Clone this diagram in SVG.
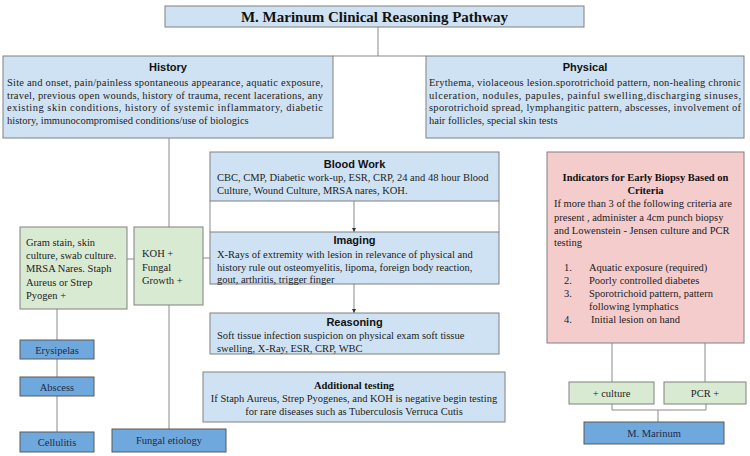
<svg xmlns="http://www.w3.org/2000/svg" width="750" height="456" viewBox="0 0 750 456">
<defs>
<style>
.bl{fill:#cfe2f3;stroke:#808080;stroke-width:1}
.gr{fill:#d9ead3;stroke:#808080;stroke-width:1}
.pk{fill:#f4cccc;stroke:#808080;stroke-width:1}
.db{fill:#6fa8dc;stroke:#5a5a5a;stroke-width:1}
.st{font-family:"Liberation Sans",Arial,sans-serif;font-weight:bold;font-size:11px;fill:#111;text-anchor:middle}
.tx{font-family:"Liberation Serif","Times New Roman",serif;font-size:10.5px;fill:#222}
.tb{font-family:"Liberation Serif","Times New Roman",serif;font-size:10.5px;font-weight:bold;fill:#111;text-anchor:middle}
.dk{font-family:"Liberation Serif","Times New Roman",serif;font-size:10.5px;fill:#1c2b4a;text-anchor:middle}
.c{text-anchor:middle}
.ln{fill:none;stroke:#8a8a8a;stroke-width:1}
</style>
<marker id="ah" viewBox="0 0 6 6" refX="6" refY="3" markerWidth="4" markerHeight="4" orient="auto">
<path d="M0,0 L6,3 L0,6 z" fill="#333"/>
</marker>
</defs>
<rect width="750" height="456" fill="#fff"/>

<g id="connectors">
<path class="ln" d="M378,27 V56 M333,56 H426"/>
<path class="ln" d="M169,138 V227 M169,305 V429"/>
<path class="ln" d="M127,259 H134 M203,258 H210"/>
<path class="ln" d="M57,309 V340 M57,359 V377 M57,396 V432"/>
<path class="ln" d="M210,201 V232 M499,201 V232"/>
<path class="ln" d="M354,201 V232" marker-end="url(#ah)"/>
<path class="ln" d="M354,284 V313" marker-end="url(#ah)"/>
<path class="ln" d="M612,343 V382 M705,343 V382"/>
<path class="ln" d="M612,404 V410 H706 V404 M658,410 V422"/>
</g>

<g id="title">
<rect class="bl" x="165" y="6" width="419" height="21"/>
<text x="374.5" y="21.5" font-family="Liberation Serif,'Times New Roman',serif" font-size="15" font-weight="bold" fill="#111" text-anchor="middle">M. Marinum Clinical Reasoning Pathway</text>
</g>

<g id="history">
<rect class="bl" x="3" y="56" width="330" height="82"/>
<text class="st" x="168" y="71">History</text>
<text class="tx" x="7" y="86" textLength="316" lengthAdjust="spacing">Site and onset, pain/painless spontaneous appearance, aquatic exposure,</text>
<text class="tx" x="7" y="98.5" textLength="316" lengthAdjust="spacing">travel, previous open wounds, history of trauma, recent lacerations, any</text>
<text class="tx" x="7" y="111" textLength="316" lengthAdjust="spacing">existing skin conditions, history of systemic inflammatory, diabetic</text>
<text class="tx" x="7" y="123.5">history, immunocompromised conditions/use of biologics</text>
</g>

<g id="physical">
<rect class="bl" x="426" y="56" width="318" height="82"/>
<text class="st" x="585" y="71">Physical</text>
<text class="tx" x="429" y="86" textLength="312" lengthAdjust="spacing">Erythema, violaceous lesion.sporotrichoid pattern, non-healing chronic</text>
<text class="tx" x="429" y="98.5" textLength="312" lengthAdjust="spacing">ulceration, nodules, papules, painful swelling,discharging sinuses,</text>
<text class="tx" x="429" y="111" textLength="312" lengthAdjust="spacing">sporotrichoid spread, lymphangitic pattern, abscesses, involvement of</text>
<text class="tx" x="429" y="123.5">hair follicles, special skin tests</text>
</g>

<g id="bloodwork">
<rect class="bl" x="210" y="152" width="289" height="49"/>
<text class="st" x="354.5" y="168">Blood Work</text>
<text class="tx" x="217" y="181">CBC, CMP, Diabetic work-up, ESR, CRP, 24 and 48 hour Blood</text>
<text class="tx" x="217" y="193.5">Culture, Wound Culture, MRSA nares, KOH.</text>
</g>

<g id="imaging">
<rect class="bl" x="210" y="232" width="289" height="52"/>
<text class="st" x="354.5" y="244">Imaging</text>
<text class="tx" x="217" y="258">X-Rays of extremity with lesion in relevance of physical and</text>
<text class="tx" x="217" y="270.5">history rule out osteomyelitis, lipoma, foreign body reaction,</text>
<text class="tx" x="217" y="283">gout, arthritis, trigger finger</text>
</g>

<g id="reasoning">
<rect class="bl" x="210" y="313" width="289" height="41"/>
<text class="st" x="354.5" y="326">Reasoning</text>
<text class="tx" x="217" y="339">Soft tissue infection suspicion on physical exam soft tissue</text>
<text class="tx" x="217" y="351.5">swelling, X-Ray, ESR, CRP, WBC</text>
</g>

<g id="additional">
<rect class="bl" x="203" y="372" width="302" height="50"/>
<text class="tb" x="354" y="389" font-size="11">Additional testing</text>
<text class="tx c" x="354" y="402">If Staph Aureus, Strep Pyogenes, and KOH is negative begin testing</text>
<text class="tx c" x="354" y="415">for rare diseases such as Tuberculosis Verruca Cutis</text>
</g>

<g id="gram">
<rect class="gr" x="20" y="227" width="107" height="82"/>
<text class="tx" x="26" y="245.5">Gram stain, skin</text>
<text class="tx" x="26" y="259">culture, swab culture.</text>
<text class="tx" x="26" y="272.3">MRSA Nares. Staph</text>
<text class="tx" x="26" y="285.6">Aureus or Strep</text>
<text class="tx" x="26" y="299">Pyogen +</text>
</g>

<g id="koh">
<rect class="gr" x="134" y="227" width="69" height="78"/>
<text class="tx" x="142" y="257">KOH +</text>
<text class="tx" x="142" y="270.5">Fungal</text>
<text class="tx" x="142" y="283.5">Growth +</text>
</g>

<g id="erysipelas">
<rect class="db" x="20" y="340" width="74" height="19"/>
<text class="dk" x="57" y="353.5">Erysipelas</text>
</g>
<g id="abscess">
<rect class="db" x="20" y="377" width="74" height="19"/>
<text class="dk" x="57" y="390.5">Abscess</text>
</g>
<g id="cellulitis">
<rect class="db" x="20" y="432" width="74" height="20"/>
<text class="dk" x="57" y="446">Cellulitis</text>
</g>
<g id="fungal">
<rect class="db" x="112" y="429" width="114" height="23"/>
<text class="dk" x="169" y="444" font-size="10">Fungal etiology</text>
</g>

<g id="indicators">
<rect class="pk" x="547" y="152" width="197" height="191"/>
<text class="tb" x="645.5" y="181">Indicators for Early Biopsy Based on</text>
<text class="tb" x="645.5" y="194">Criteria</text>
<text class="tx" x="554" y="207">If more than 3 of the following criteria are</text>
<text class="tx" x="554" y="220.5">present , administer a 4cm punch biopsy</text>
<text class="tx" x="554" y="233.5">and Lowenstein - Jensen culture and PCR</text>
<text class="tx" x="554" y="246">testing</text>
<text class="tx" x="564" y="271">1.</text>
<text class="tx" x="589" y="271">Aquatic exposure (required)</text>
<text class="tx" x="564" y="284">2.</text>
<text class="tx" x="589" y="284">Poorly controlled diabetes</text>
<text class="tx" x="564" y="297">3.</text>
<text class="tx" x="589" y="297">Sporotrichoid pattern, pattern</text>
<text class="tx" x="589" y="310">following lymphatics</text>
<text class="tx" x="564" y="323">4.</text>
<text class="tx" x="591" y="323">Initial lesion on hand</text>
</g>

<g id="culture">
<rect class="gr" x="569" y="382" width="85" height="22"/>
<text class="tx c" x="611.5" y="397">+ culture</text>
</g>
<g id="pcr">
<rect class="gr" x="664" y="382" width="82" height="22"/>
<text class="tx c" x="705" y="397">PCR +</text>
</g>
<g id="mmarinum">
<rect class="db" x="584" y="422" width="140" height="22"/>
<text class="dk" x="654" y="437">M. Marinum</text>
</g>
</svg>
